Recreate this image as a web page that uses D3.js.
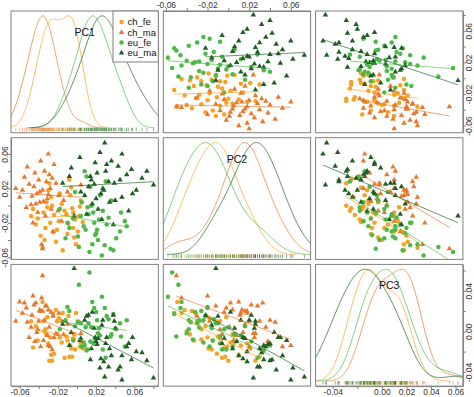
<!DOCTYPE html>
<html>
<head>
<meta charset="utf-8">
<script src="https://cdn.jsdelivr.net/npm/d3@7"></script>
<style>
  body { margin: 0; background: #fff; }
  text { font-family: "Liberation Sans Narrow", "Liberation Sans", Arial, sans-serif; }
</style>
</head>
<body>
<div id="chart"></div>
<script>
// groups, colours and the three principal-component scores per group
const groupNames = ['ch_fe', 'ch_ma', 'eu_fe', 'eu_ma'];
const groupColors = ['#F5A227', '#E8772E', '#4DB848', '#1E5E22'];
const groupShapes = ['circle', 'triangle', 'circle', 'triangle'];
const varNames = ['PC1', 'PC2', 'PC3'];

const chFePC1 = [-0.032,-0.028,-0.035,-0.025,-0.041,-0.030,-0.022,-0.046,-0.033,-0.027,-0.038,-0.019,-0.029,-0.036,-0.024,-0.031,-0.043,-0.016,-0.034,-0.026,-0.021,-0.004,-0.002,-0.007,0.001,-0.005,-0.009,0.004,-0.003,-0.011,0.006,-0.006,-0.001,-0.013,0.002,-0.008,-0.004,-0.015,0.003,-0.010,-0.018,-0.048];
const chFePC2 = [0.004,-0.020,-0.008,-0.031,-0.015,0.018,-0.042,-0.004,-0.026,0.010,-0.035,-0.018,0.026,-0.049,-0.011,-0.002,-0.022,0.002,-0.040,0.000,-0.028,-0.008,-0.016,0.012,-0.030,-0.003,-0.021,0.006,-0.037,-0.010,-0.019,0.021,-0.045,-0.006,-0.012,0.030,-0.026,-0.052,-0.001,-0.033,0.014,-0.012];
const chFePC3 = [-0.003,-0.006,0.010,0.017,-0.009,-0.012,0.021,-0.016,0.002,-0.023,0.020,0.013,-0.029,0.029,-0.022,0.014,0.005,-0.011,0.000,-0.029,0.010,-0.007,-0.018,-0.014,0.010,-0.025,0.015,-0.011,-0.003,-0.005,-0.017,-0.017,0.018,-0.026,0.009,-0.025,-0.008,0.018,-0.015,-0.009,-0.006,0.010];

const chMaPC1 = [-0.040,-0.036,-0.052,-0.031,-0.045,-0.027,-0.060,-0.038,-0.033,-0.048,-0.029,-0.042,-0.022,-0.055,-0.035,-0.019,-0.046,-0.030,-0.039,-0.025,-0.050,-0.034,-0.014,-0.043,-0.037,-0.028,-0.057,-0.032,-0.010,-0.041,-0.024,-0.047,-0.036,-0.020,-0.044,-0.030,0.004,-0.053,-0.026,-0.039,-0.016,-0.064];
const chMaPC2 = [0.030,0.018,0.045,0.008,0.022,-0.004,0.010,0.052,-0.012,0.001,0.036,0.014,0.026,0.033,0.005,0.012,-0.020,0.060,0.016,-0.030,0.025,0.040,0.006,0.002,-0.045,0.020,0.018,0.028,0.016,-0.008,0.048,0.011,-0.050,-0.006,0.038,0.013,0.024,-0.002,0.032,0.004,-0.018,0.020];
const chMaPC3 = [0.010,0.020,0.009,-0.004,0.026,0.019,0.029,-0.015,0.025,0.004,0.004,-0.001,-0.002,0.028,-0.009,0.018,0.035,-0.014,0.020,0.015,-0.006,0.011,-0.003,0.028,0.033,-0.015,0.018,0.025,0.007,0.002,-0.006,0.016,0.055,-0.003,-0.010,0.021,-0.002,0.023,-0.018,0.021,0.010,0.010];

const euFePC1 = [0.012,0.020,0.005,0.031,0.016,-0.004,0.024,0.009,0.038,0.014,-0.012,0.027,0.018,0.002,0.045,0.010,0.022,-0.018,0.033,0.007,0.026,0.015,0.050,-0.008,0.019,0.036,0.004,0.029,0.011,0.041,-0.002,0.023,0.013,0.052,0.001,0.030,0.017,-0.010,0.035,0.008,0.021,0.046];
const euFePC2 = [-0.010,-0.032,0.004,-0.022,-0.045,-0.015,0.012,-0.028,-0.052,0.022,-0.038,-0.006,-0.020,-0.048,-0.030,0.034,-0.040,-0.004,-0.014,-0.024,-0.058,0.000,-0.018,-0.026,-0.034,0.006,-0.012,-0.046,-0.002,-0.038,0.016,-0.016,-0.054,-0.024,-0.036,0.028,-0.008,-0.020,-0.050,0.040,-0.028,-0.008];
const euFePC3 = [0.008,0.019,-0.015,0.015,0.029,-0.009,-0.004,0.004,0.017,-0.010,0.011,-0.018,0.023,0.046,0.008,-0.019,-0.002,0.002,0.012,-0.011,0.034,0.004,-0.015,0.020,-0.008,-0.003,0.008,0.023,-0.018,0.002,0.005,0.003,0.058,0.011,0.009,-0.026,-0.012,0.024,-0.005,-0.014,0.011,-0.005];

const euMaPC1 = [0.030,0.018,0.045,0.008,0.036,0.022,0.062,0.014,0.027,0.080,-0.006,0.040,0.024,0.052,0.010,0.033,0.019,0.057,0.004,0.029,0.047,0.016,0.068,0.025,-0.015,0.038,0.021,0.043,0.012,0.034,0.003,0.058,0.026,0.047,0.015,0.031,0.073,0.020,0.039,-0.008,0.054,0.028,-0.003];
const euMaPC2 = [0.040,0.025,0.030,0.012,0.052,-0.004,0.018,0.034,0.020,0.024,0.044,0.006,0.062,0.036,-0.010,0.028,0.050,0.042,0.016,0.073,0.010,0.002,0.032,0.014,0.026,-0.022,0.038,0.046,0.022,0.004,0.056,0.014,-0.016,0.060,0.030,0.048,0.040,0.008,0.026,0.034,-0.006,0.018,-0.012];
const euMaPC3 = [-0.012,0.003,-0.035,0.011,-0.024,-0.007,-0.020,-0.028,0.011,-0.046,-0.001,0.003,-0.036,-0.015,0.015,-0.035,-0.006,-0.028,-0.007,-0.045,-0.024,0.019,-0.021,-0.027,0.007,0.016,-0.013,-0.038,0.016,-0.017,-0.009,-0.006,0.006,-0.048,-0.017,-0.006,-0.029,-0.010,0.010,-0.014,-0.012,-0.030,0.062];

// axis ticks (every 0.02) and which of them carry a label
const pc1Ticks = [-0.06, -0.04, -0.02, 0, 0.02, 0.04, 0.06, 0.08];
const pc1Labels = [-0.06, -0.02, 0.02, 0.06];
const pc2Ticks = [-0.06, -0.04, -0.02, 0, 0.02, 0.04, 0.06];
const pc2Labels = [-0.06, -0.02, 0.02, 0.06];
const pc3Ticks = [-0.04, -0.02, 0, 0.02, 0.04, 0.06];
const pc3BottomLabels = [-0.04, 0, 0.02, 0.04, 0.06];
const pc3RightLabels = [-0.04, 0, 0.04];

const domains = [[-0.069, 0.085], [-0.0625, 0.079], [-0.054, 0.066]];

const seriesByGroup = [
    [chFePC1, chFePC2, chFePC3],
    [chMaPC1, chMaPC2, chMaPC3],
    [euFePC1, euFePC2, euFePC3],
    [euMaPC1, euMaPC2, euMaPC3]
];

const points = [];
seriesByGroup.forEach((s, g) => {
    const n = d3.min(s, a => a.length);
    for (let i = 0; i < n; i++) points.push({ g, v: [s[0][i], s[1][i], s[2][i]] });
});

const width = 474, height = 397;
const padLeft = 11, padTop = 11, gap = 5, pw = 147.3, ph = 121.7;
const colX = i => padLeft + i * (pw + gap);
const rowY = j => padTop + j * (ph + gap);

const xScales = domains.map((d, i) => d3.scaleLinear().domain(d).range([colX(i), colX(i) + pw]));
const yScales = domains.map((d, j) => d3.scaleLinear().domain(d).range([rowY(j) + ph, rowY(j)]));

const svg = d3.select('#chart').append('svg')
    .attr('width', width)
    .attr('height', height);

const defs = svg.append('defs');

const symbolFor = (g, size) => d3.symbol()
    .type(groupShapes[g] === 'circle' ? d3.symbolCircle : d3.symbolTriangle)
    .size(size)();

// Silverman bandwidth, widened a little to match the smoother reference curves
function bandwidth(vals) {
    const s = d3.deviation(vals);
    const sorted = vals.slice().sort(d3.ascending);
    const iqr = d3.quantile(sorted, 0.75) - d3.quantile(sorted, 0.25);
    return 1.35 * 0.9 * Math.min(s, iqr / 1.34) * Math.pow(vals.length, -0.2);
}

function kde(vals, bw) {
    const lo = d3.min(vals) - 3 * bw, hi = d3.max(vals) + 3 * bw;
    const xs = d3.range(0, 301).map(k => lo + (hi - lo) * k / 300);
    const ys = xs.map(x => d3.mean(vals, v => Math.exp(-0.5 * ((x - v) / bw) ** 2)));
    const m = d3.max(ys);
    return xs.map((x, k) => [x, ys[k] / m]);
}

function fit(xs, ys) {
    const mx = d3.mean(xs), my = d3.mean(ys);
    const b = d3.sum(xs, (x, i) => (x - mx) * (ys[i] - my)) / d3.sum(xs, x => (x - mx) ** 2);
    return { a: my - b * mx, b };
}

for (let r = 0; r < 3; r++) {
    for (let c = 0; c < 3; c++) {
        const x0 = colX(c), y0 = rowY(r);
        const clipId = `clip-${r}-${c}`;
        defs.append('clipPath').attr('id', clipId)
            .append('rect').attr('x', x0).attr('y', y0).attr('width', pw).attr('height', ph);
        const panel = svg.append('g').attr('clip-path', `url(#${clipId})`);
        const xs = xScales[c];

        if (r === c) {
            // diagonal: per-group density scaled to its own peak, with a rug
            const yd = d3.scaleLinear().domain([0, 1]).range([y0 + ph - 0.04 * ph, y0 + 0.04 * ph]);
            panel.selectAll('line.rug').data(points).join('line')
                .attr('x1', d => xs(d.v[c])).attr('x2', d => xs(d.v[c]))
                .attr('y1', y0 + ph - 5).attr('y2', y0 + ph - 1.5)
                .attr('stroke', d => groupColors[d.g])
                .attr('stroke-opacity', 0.6)
                .attr('stroke-width', 0.8);
            seriesByGroup.forEach((s, g) => {
                const curve = kde(s[c], bandwidth(s[c]));
                panel.append('path')
                    .attr('d', d3.line().x(d => xs(d[0])).y(d => yd(d[1]))(curve))
                    .attr('fill', 'none')
                    .attr('stroke', groupColors[g])
                    .attr('stroke-opacity', 0.7)
                    .attr('stroke-width', 1);
            });
            svg.append('text')
                .attr('x', x0 + pw / 2)
                .attr('y', y0 + 25)
                .attr('text-anchor', 'middle')
                .style('font-size', '10.5px')
                .attr('fill', '#111')
                .text(varNames[c]);
        } else {
            const ys = yScales[r];
            panel.selectAll('path.pt').data(points).join('path')
                .attr('d', d => symbolFor(d.g, groupShapes[d.g] === 'circle' ? 16 : 13))
                .attr('transform', d => `translate(${xs(d.v[c])},${ys(d.v[r])})`)
                .attr('fill', d => groupColors[d.g]);
            seriesByGroup.forEach((s, g) => {
                const f = fit(s[c], s[r]);
                const [lo, hi] = d3.extent(s[c]);
                panel.append('line')
                    .attr('x1', xs(lo)).attr('y1', ys(f.a + f.b * lo))
                    .attr('x2', xs(hi)).attr('y2', ys(f.a + f.b * hi))
                    .attr('stroke', groupColors[g])
                    .attr('stroke-opacity', 0.65)
                    .attr('stroke-width', 1);
            });
        }

        svg.append('rect')
            .attr('x', x0).attr('y', y0).attr('width', pw).attr('height', ph)
            .attr('fill', 'none')
            .attr('stroke', '#808080')
            .attr('stroke-width', 1);
    }
}

// legend in the PC1 density panel
const legend = svg.append('g');
legend.append('rect')
    .attr('x', 113).attr('y', padTop).attr('width', colX(0) + pw - 113).attr('height', 51)
    .attr('fill', '#fff')
    .attr('stroke', '#808080')
    .attr('stroke-width', 1);
groupNames.forEach((name, g) => {
    const ly = 22 + g * 10.3;
    legend.append('path')
        .attr('d', symbolFor(g, groupShapes[g] === 'circle' ? 16 : 13))
        .attr('transform', `translate(121.5,${ly})`)
        .attr('fill', groupColors[g]);
    legend.append('text')
        .attr('x', 127.5).attr('y', ly + 3.3)
        .style('font-size', '9.5px')
        .attr('fill', '#111')
        .text(name);
});

// axes around the matrix
const fmt = labels => d => labels.some(l => Math.abs(l - d) < 1e-9) ? d3.format('.2f')(d).replace('\u2212', '-') : '';

function styleAxis(g) {
    g.selectAll('.domain').attr('stroke', '#808080');
    g.selectAll('.tick line').attr('stroke', '#808080');
    g.selectAll('.tick text').attr('fill', '#333').style('font-size', '8.5px');
}

[[0, pc1Ticks, pc1Labels], [2, pc3Ticks, pc3BottomLabels]].forEach(([c, ticks, labels]) => {
    svg.append('g')
        .attr('transform', `translate(0,${rowY(2) + ph})`)
        .call(d3.axisBottom(xScales[c]).tickValues(ticks).tickFormat(fmt(labels)).tickSize(3).tickSizeOuter(0))
        .call(styleAxis)
        .call(g => g.selectAll('.tick text').attr('y', 0).attr('dy', 0).attr('transform', 'translate(0,8.6)'));
});

svg.append('g')
    .attr('transform', `translate(0,${rowY(0)})`)
    .call(d3.axisTop(xScales[1]).tickValues(pc2Ticks).tickFormat(fmt(pc2Labels)).tickSize(3).tickSizeOuter(0).tickPadding(0.5))
    .call(styleAxis);

svg.append('g')
    .attr('transform', `translate(${colX(0)},0)`)
    .call(d3.axisLeft(yScales[1]).tickValues(pc2Ticks).tickFormat(fmt(pc2Labels)).tickSize(3).tickSizeOuter(0))
    .call(styleAxis)
    .call(g => g.selectAll('.tick text')
        .attr('transform', 'rotate(-90)')
        .attr('x', 0).attr('y', -3.5).attr('dy', 0)
        .attr('text-anchor', 'middle'));

[[0, pc1Ticks, pc1Labels], [2, pc3Ticks, pc3RightLabels]].forEach(([r, ticks, labels]) => {
    svg.append('g')
        .attr('transform', `translate(${colX(2) + pw},0)`)
        .call(d3.axisRight(yScales[r]).tickValues(ticks).tickFormat(fmt(labels)).tickSize(3).tickSizeOuter(0))
        .call(styleAxis)
        .call(g => g.selectAll('.tick text')
            .attr('transform', 'rotate(-90)')
            .attr('x', 0).attr('y', 9.5).attr('dy', 0)
            .attr('text-anchor', 'middle'));
});
</script>
</body>
</html>
